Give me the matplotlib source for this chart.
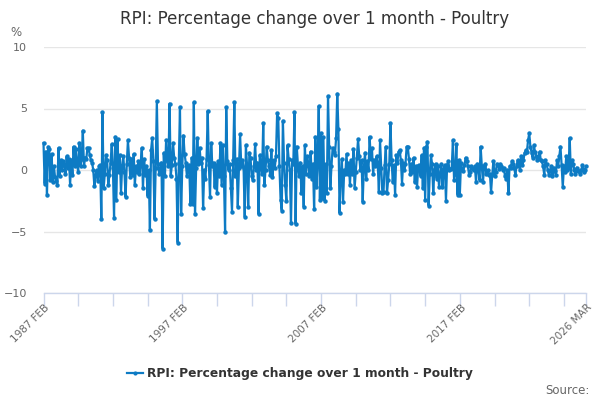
import matplotlib
matplotlib.use('Agg')
import matplotlib.pyplot as plt
import pandas as pd
from matplotlib.lines import Line2D

plt.rcParams['font.family'] = ['DejaVu Sans']

TITLE = 'RPI: Percentage change over 1 month - Poultry'
START = '1987-02'

# monthly % change (1987 FEB .. 2026 MAR)
pct_change = [
    2.2, -1.1, 1.5, -2.0, 1.9, 1.7, -0.8, 1.3, -1.0, 0.3,
    -0.6, -0.9, -1.2, 1.8, -0.5, 0.8, 0.0, 0.7, 0.4, -0.3,
    1.1, 0.2, 0.9, -1.2, 0.8, -0.4, 1.9, 0.3, 1.7, 0.6,
    -0.2, 2.2, 0.3, 0.9, 3.2, 0.3, 1.0, 0.9, 1.8, 1.8,
    1.2, 0.8, 0.6, 0.0, -1.3, -0.4, 0.0, -0.9, 0.3, 0.4,
    -4.0, 4.7, -1.5, -0.3, 1.2, 0.8, -1.2, -0.4, 0.6, 2.1,
    0.2, -3.9, 2.7, -2.4, 2.5, -0.2, 1.2, -1.9, 0.3, 1.1,
    -0.2, -2.2, 0.5, 2.4, 1.0, -0.6, 0.9, -0.4, 1.3, -1.2,
    0.3, -0.2, 0.7, -0.3, 0.5, 1.8, -1.5, 0.9, -0.4, 0.3,
    -2.1, 0.0, -4.9, 1.6, 2.6, 0.7, -4.0, 0.2, 5.6, 0.5,
    -0.3, 0.1, 0.6, -6.4, 1.4, -0.5, 2.4, 0.8, 0.3, 5.4,
    -0.5, 0.4, 2.2, 1.0, 0.5, -0.7, -5.9, 0.6, 5.1, -3.6,
    0.3, 2.8, 1.3, 0.6, -0.5, 0.3, 0.4, -2.8, 1.0, -2.8,
    5.5, -3.6, 0.2, 2.6, 0.5, 1.8, 0.6, 1.0, -3.1, 0.0,
    -0.7, 0.9, 4.8, 0.4, -2.2, 2.2, 0.3, 0.6, -1.4, 0.4,
    -1.9, 0.7, -0.5, 2.2, -1.2, 2.0, -0.5, -5.0, 5.1, 0.7,
    0.0, 0.5, -1.5, -3.4, 0.8, 5.5, -0.5, 0.9, -3.0, 0.2,
    2.9, 0.3, 0.8, 0.2, -3.8, 2.0, 0.4, -3.0, 1.4, 1.0,
    -0.5, -0.8, 0.3, 2.1, 0.0, 0.6, -3.6, 1.2, 0.4, -0.3,
    3.8, -1.2, 0.0, 1.9, 0.8, 0.3, -0.4, 1.6, -0.6, 0.8,
    0.2, 1.1, 4.6, 4.2, 0.3, -2.4, -3.3, 4.0, 0.6, -1.2,
    -2.5, 2.0, 0.9, 0.0, -4.3, 0.8, 0.5, 4.7, -4.4, 1.9,
    0.4, -0.5, 0.6, -1.9, 0.3, -3.0, 2.0, -0.3, 1.1, 0.5,
    -0.5, 1.5, -0.7, 0.5, -3.2, 2.7, -1.4, 0.6, 5.2, -2.4,
    3.0, -2.3, 2.7, -2.5, 0.5, -1.9, 6.0, 1.9, -1.5, 0.3,
    1.8, 1.5, 1.2, 2.6, 6.2, 3.3, -3.5, -0.4, 0.9, -2.6,
    0.0, -0.3, 1.3, -0.3, 0.6, -1.2, 0.8, -0.3, 1.7, -1.5,
    -0.2, 1.0, 2.5, 1.1, 0.0, 0.8, -2.6, 0.2, 1.4, -0.7,
    0.7, 0.0, 2.7, 0.9, 1.8, -0.3, 0.8, 0.3, 1.1, 0.5,
    -1.8, 2.4, 0.2, -1.9, -1.8, 0.4, 1.9, -1.9, -0.8, 0.5,
    3.8, 0.8, -1.0, 0.4, -2.0, 1.2, 0.6, 1.5, 1.6, 0.8,
    -1.1, 0.6, 0.0, 0.5, 1.9, 1.9, 0.9, -0.3, 0.5, -0.2,
    1.0, -1.0, 0.3, -1.4, 0.3, 0.4, -0.5, 1.2, -1.5, 1.8,
    -2.4, 1.9, 2.3, -2.9, -0.3, 1.2, 0.5, -1.9, 0.0, 0.5,
    -0.7, 0.3, -1.4, -0.3, 0.5, -1.4, 0.1, 0.4, -2.5, 0.4,
    0.7, 0.0, 0.1, 0.2, 2.4, -0.8, -0.3, 2.1, -2.0, 0.8,
    -2.0, 0.6, 0.0, -0.1, 0.4, 1.0, 0.7, 0.3, -0.4, -0.2,
    0.3, 0.1, 0.0, 0.3, -1.0, 0.5, 0.2, -0.8, 1.9, 0.3,
    -1.0, 0.3, 0.5, -0.3, 0.0, -0.4, -0.3, -1.8, -0.4, 0.7,
    -0.5, -0.2, 0.5, 0.4, 0.1, 0.5, 0.3, 0.0, 0.2, -0.5,
    -0.7, 0.0, -1.9, 0.3, 0.2, 0.7, 0.5, 0.2, -0.4, 0.3,
    0.8, 0.5, 0.0, 1.1, 0.4, 0.8, 1.4, 1.6, 1.5, 2.4,
    3.0, 1.9, 1.4, 1.0, 2.0, 1.5, 1.1, 0.8, 0.9, 1.5,
    0.8, 0.7, 0.3, -0.4, 0.8, 0.5, 0.0, -0.4, -0.1, 0.3,
    -0.5, 0.2, -0.1, -0.4, 0.8, 0.3, 1.1, 1.9, 0.4, -1.4,
    0.3, -0.2, 1.1, 0.0, 0.2, 2.6, -0.3, 0.8, 0.5, 0.0,
    -0.3, 0.2, -0.1, -0.1, -0.3, 0.0, 0.4, -0.2, 0.0, 0.3,
]

y_ticks = [-10, -5, 0, 5, 10]

months = pd.date_range(START, periods=len(pct_change), freq='MS')
month_labels = [d.strftime('%Y %b').upper() for d in months]
x = list(range(len(pct_change)))
last = len(pct_change) - 1
label_pos = [0, 120, 240, 360, last]
minor_pos = list(range(0, last, 30)) + [last]

LINE = '#0d7bc4'
GRID = '#e6e6e6'
AXIS = '#ccd6eb'
TEXT = '#666666'

fig = plt.figure(figsize=(6, 4), dpi=100)
ax = fig.add_axes([0.0725, 0.2675, 0.904, 0.615])

ax.plot(x, pct_change, color=LINE, lw=1.6, marker='o', ms=3.2,
        markeredgewidth=0, clip_on=False, zorder=3)

ax.set_xlim(0, last)
ax.set_ylim(-10, 10)
ax.set_yticks(y_ticks)
ax.grid(axis='y', color=GRID, lw=1)
ax.set_axisbelow(True)
for s in ['top', 'right', 'left']:
    ax.spines[s].set_visible(False)
ax.spines['bottom'].set_color(AXIS)
ax.spines['bottom'].set_linewidth(1)
ax.tick_params(axis='y', length=0, pad=12, labelsize=8, labelcolor=TEXT)

ax.set_xticks(minor_pos)
ax.set_xticklabels(['' for _ in minor_pos])
ax.tick_params(axis='x', length=9, color=AXIS, width=1)
for p in label_pos:
    ax.text(p + 1, -10.75, month_labels[p], rotation=45, ha='right', va='top',
            rotation_mode='anchor', fontsize=7.5, color=TEXT,
            transform=ax.transData)

# title sits centred over the plot area, not the figure
fig.text(0.524, 0.953, TITLE, ha='center', va='center', fontsize=12, color='#333333')
fig.text(0.017, 0.92, '%', ha='left', va='center', fontsize=8.5, color=TEXT)

handle = Line2D([0], [0], color=LINE, lw=1.6, marker='o', ms=3, markeredgewidth=0)
fig.legend([handle], [TITLE], loc='center', bbox_to_anchor=(0.5, 0.065),
           frameon=False, handlelength=1.3, handletextpad=0.4,
           prop={'size': 8.8, 'weight': 'bold'}, labelcolor='#333333')
fig.text(0.983, 0.025, 'Source:', ha='right', va='center', fontsize=8.5, color=TEXT)

fig.savefig('out.png', dpi=100)
